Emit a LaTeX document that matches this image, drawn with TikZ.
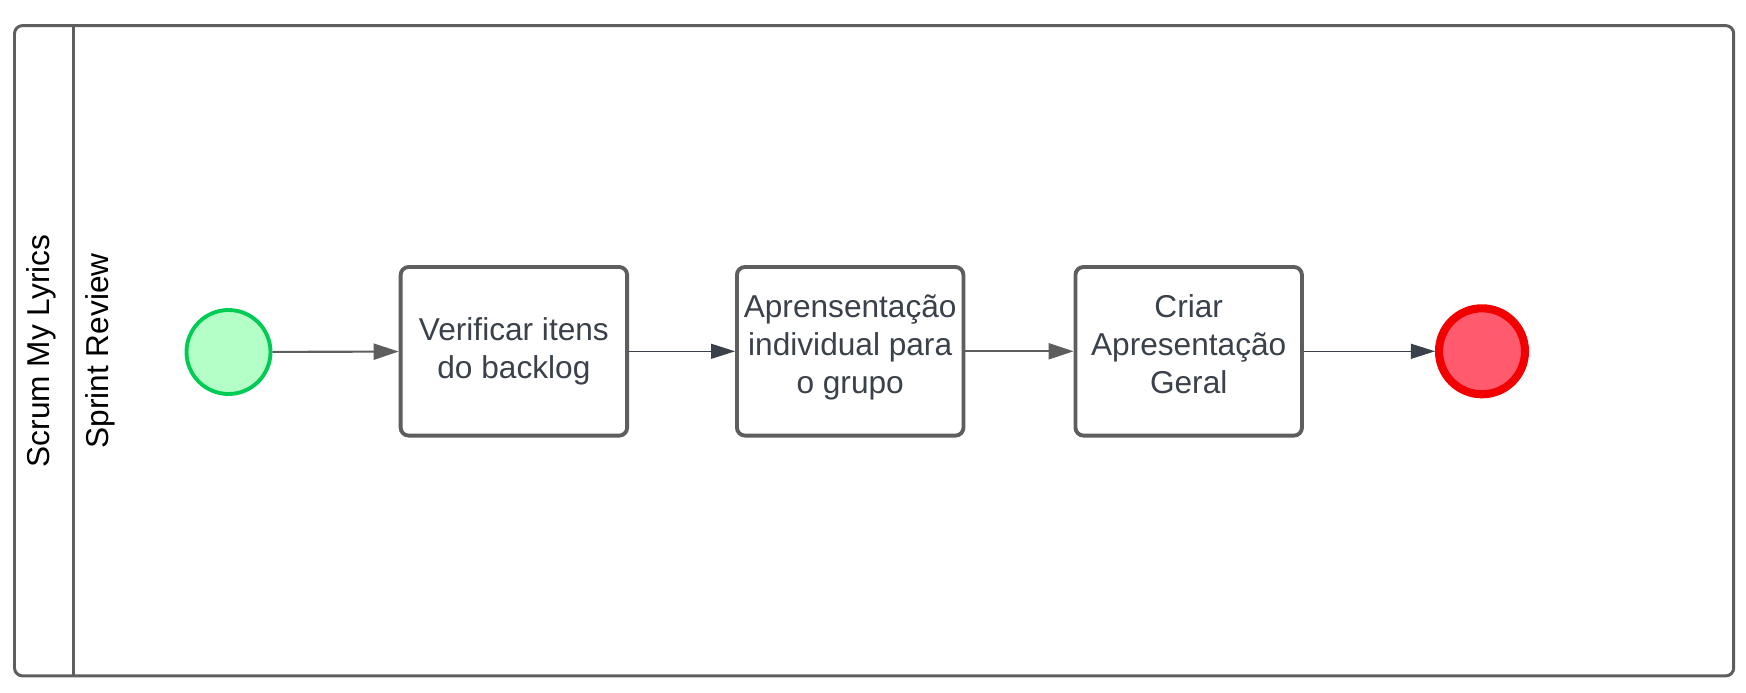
\documentclass[tikz,border=0pt]{standalone}
\usepackage{fontspec}
\setmainfont{Liberation Sans}
\usepackage{xcolor}
\usetikzlibrary{arrows.meta, positioning}
\definecolor{lanegray}{HTML}{5E5E5E}
\definecolor{textslate}{HTML}{3A414A}
\definecolor{startfill}{HTML}{B3FFC7}
\definecolor{startline}{HTML}{00CC55}
\definecolor{endfill}{HTML}{FF5A6E}
\definecolor{endline}{HTML}{F20000}

\begin{document}
\begin{tikzpicture}[
  task/.style={draw=lanegray, line width=1.1pt, rounded corners=0.08cm, fill=white,
    minimum width=2.265cm, minimum height=1.686cm, inner sep=0pt, align=center,
    text=textslate, font=\fontsize{9}{10.8}\selectfont},
  lanelabel/.style={rotate=90, inner sep=0pt, font=\fontsize{9}{10.8}\selectfont},
  flowthick/.style={draw=lanegray, line width=0.6pt, -{Triangle[length=2.5mm, width=1.6mm]}},
  flowthin/.style={draw=textslate, line width=0.35pt, -{Triangle[length=2.4mm, width=1.5mm]}}
]
\useasboundingbox (0,0) rectangle (17.46,-6.93);

% Pool and lane
\draw[lanegray, line width=0.85pt, rounded corners=0.08cm] (0.145,-0.256) rectangle (17.337,-6.759);
\draw[lanegray, line width=0.85pt] (0.735,-0.256) -- (0.735,-6.759);
\node[lanelabel] (pool) at (0.41,-3.51) {Scrum My Lyrics};
\node[lanelabel] (lane) at (1.00,-3.51) {Sprint Review};

% Events
\node[circle, draw=startline, fill=startfill, line width=1.1pt, minimum size=0.84cm, inner sep=0pt] (start) at (2.285,-3.52) {};
\node[circle, draw=endline, fill=endfill, line width=2.3pt, minimum size=0.86cm, inner sep=0pt] (stop) at (14.82,-3.513) {};

% Tasks
\node[task] (verify) at (5.139,-3.513) {Verificar itens\\do backlog};
\node[task, text depth=0.14cm] (present) at (8.502,-3.513) {Aprensentação\\individual para\\o grupo};
\node[task, text depth=0.14cm] (general) at (11.887,-3.513) {Criar\\Apresentação\\Geral};

% Flows
\draw[flowthick] (start) -- (verify);
\draw[flowthin] (verify) -- (present);
\draw[flowthick] (present) -- (general);
\draw[flowthin] (general) -- (stop);
\end{tikzpicture}
\end{document}
